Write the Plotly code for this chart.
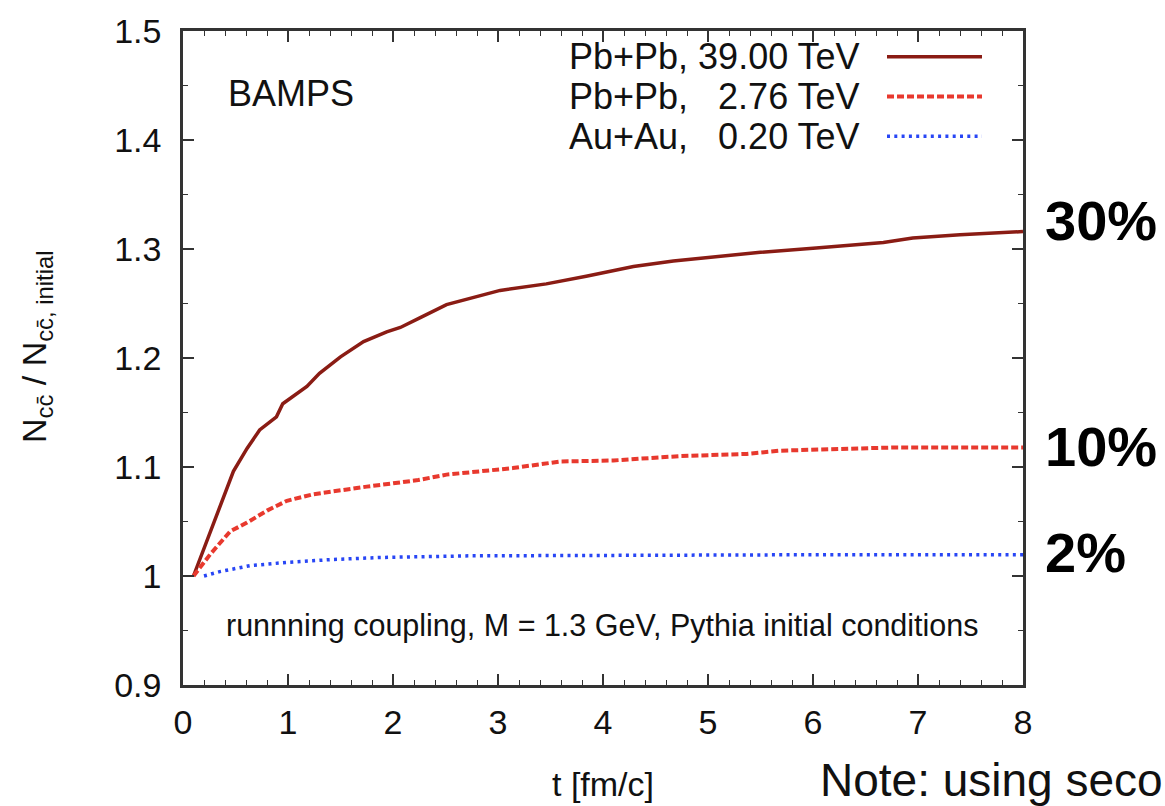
import plotly.graph_objects as go

# ---- data ----
t_pb39 = [0.10, 0.19, 0.37, 0.48, 0.61, 0.73, 0.89, 0.95, 1.18, 1.30, 1.50, 1.72, 1.94,
          2.07, 2.26, 2.51, 3.02, 3.46, 3.84, 4.29, 4.67, 5.11, 5.50, 6.03, 6.67, 6.95,
          7.40, 8.00]
y_pb39 = [1.000, 1.023, 1.069, 1.096, 1.117, 1.134, 1.146, 1.158, 1.174, 1.186, 1.201,
          1.215, 1.224, 1.228, 1.237, 1.249, 1.262, 1.268, 1.275, 1.284, 1.289, 1.293,
          1.297, 1.301, 1.306, 1.310, 1.313, 1.316]

t_pb276 = [0.10, 0.26, 0.45, 0.61, 0.80, 0.99, 1.24, 1.50, 1.75, 2.00, 2.24, 2.51, 3.14,
           3.59, 4.10, 4.73, 5.37, 5.69, 6.32, 6.80, 8.00]
y_pb276 = [1.000, 1.020, 1.041, 1.049, 1.060, 1.069, 1.075, 1.079, 1.082, 1.085, 1.088,
           1.093, 1.099, 1.105, 1.106, 1.110, 1.112, 1.115, 1.117, 1.118, 1.118]

t_au020 = [0.20, 0.35, 0.64, 0.99, 1.40, 1.88, 2.73, 4.00, 6.00, 8.00]
y_au020 = [1.000, 1.004, 1.0095, 1.0125, 1.015, 1.017, 1.0185, 1.019, 1.0195, 1.0195]

series_labels = ["Pb+Pb, 39.00 TeV", "Pb+Pb,   2.76 TeV", "Au+Au,   0.20 TeV"]
percent_labels = ["30%", "10%", "2%"]
x_ticks = [0, 1, 2, 3, 4, 5, 6, 7, 8]
y_ticks = [0.9, 1.0, 1.1, 1.2, 1.3, 1.4, 1.5]
y_tick_text = ["0.9", "1", "1.1", "1.2", "1.3", "1.4", "1.5"]

# ---- styles ----
C_SOLID = "#8a1c14"
C_DASH = "#e8392e"
C_DOT = "#2846f5"
FONT = "Liberation Sans, Arial, sans-serif"

fig = go.Figure()
fig.add_trace(go.Scatter(x=t_pb39, y=y_pb39, mode="lines",
                         line=dict(color=C_SOLID, width=3.5), showlegend=False))
fig.add_trace(go.Scatter(x=t_pb276, y=y_pb276, mode="lines",
                         line=dict(color=C_DASH, width=4, dash="7px,3px"), showlegend=False))
fig.add_trace(go.Scatter(x=t_au020, y=y_au020, mode="lines",
                         line=dict(color=C_DOT, width=3.5, dash="3px,4.3px"), showlegend=False))

L, R, T, B = 183, 142, 27, 121
W, H = 1165, 806
PW, PH = W - L - R, H - T - B


def px(xp):
    return (xp - L) / PW


def py(yp):
    return (H - B - yp) / PH


axis_common = dict(
    showline=True, linecolor="#333333", linewidth=2.5, mirror="ticks",
    ticks="inside", ticklen=11, tickwidth=1.5, tickcolor="#333333",
    showgrid=False, zeroline=False,
    tickfont=dict(family=FONT, size=34, color="#111111"),
)

fig.update_xaxes(range=[0, 8], tickvals=x_ticks, **axis_common,
                 minor=dict(ticks="inside", ticklen=5, tickwidth=1.2, tickcolor="#333333",
                            dtick=0.2, showgrid=False),
                 ticklabelstandoff=5)
fig.update_yaxes(range=[0.9, 1.5], tickvals=y_ticks, ticktext=y_tick_text, **axis_common,
                 minor=dict(ticks="inside", ticklen=5, tickwidth=1.2, tickcolor="#333333",
                            dtick=0.05, showgrid=False),
                 ticklabelstandoff=12)

ann = []
legend_rows_y = [53, 93, 133]
legend_colors = [C_SOLID, C_DASH, C_DOT]
legend_dash = ["solid", "7px,3px", "3px,4.3px"]
legend_width = [3.5, 4, 3.5]
shapes = []
for lab, yy, col, dsh, lw in zip(series_labels, legend_rows_y, legend_colors, legend_dash, legend_width):
    ann.append(dict(text=lab, xref="paper", yref="paper", x=px(862), y=py(yy),
                    xanchor="right", yanchor="middle", showarrow=False,
                    font=dict(family=FONT, size=36, color="#111111")))
    shapes.append(dict(type="line", xref="paper", yref="paper",
                       x0=px(887), x1=px(982), y0=py(yy), y1=py(yy),
                       line=dict(color=col, width=lw, dash=dsh)))

ann.append(dict(text="BAMPS", xref="paper", yref="paper", x=px(226), y=py(90),
                xanchor="left", yanchor="middle", showarrow=False,
                font=dict(family=FONT, size=36, color="#111111")))
ann.append(dict(text="runnning coupling, M = 1.3 GeV, Pythia initial conditions",
                xref="paper", yref="paper", x=px(224), y=py(625),
                xanchor="left", yanchor="middle", showarrow=False,
                font=dict(family=FONT, size=30.5, color="#111111")))

pct_y = [218, 445, 552]
for lab, yy in zip(percent_labels, pct_y):
    ann.append(dict(text="<b>" + lab + "</b>", xref="paper", yref="paper", x=px(1043), y=py(yy),
                    xanchor="left", yanchor="middle", showarrow=False,
                    font=dict(family=FONT, size=56, color="#000000")))

ann.append(dict(text="N<sub>cc\u0304</sub> / N<sub>cc\u0304, initial</sub>",
                xref="paper", yref="paper", x=px(36), y=py(345), textangle=-90,
                xanchor="center", yanchor="middle", showarrow=False,
                font=dict(family=FONT, size=34, color="#111111")))
ann.append(dict(text="t [fm/c]", xref="paper", yref="paper", x=px(603), y=py(785),
                xanchor="center", yanchor="middle", showarrow=False,
                font=dict(family=FONT, size=34, color="#111111")))
ann.append(dict(text="Note: using seco", xref="paper", yref="paper", x=px(818), y=py(781),
                xanchor="left", yanchor="middle", showarrow=False,
                font=dict(family=FONT, size=46, color="#111111")))

fig.update_layout(
    width=W, height=H,
    margin=dict(l=L, r=R, t=T, b=B, pad=0),
    paper_bgcolor="white", plot_bgcolor="white",
    annotations=ann, shapes=shapes, showlegend=False,
)

fig.write_html("out.html")
